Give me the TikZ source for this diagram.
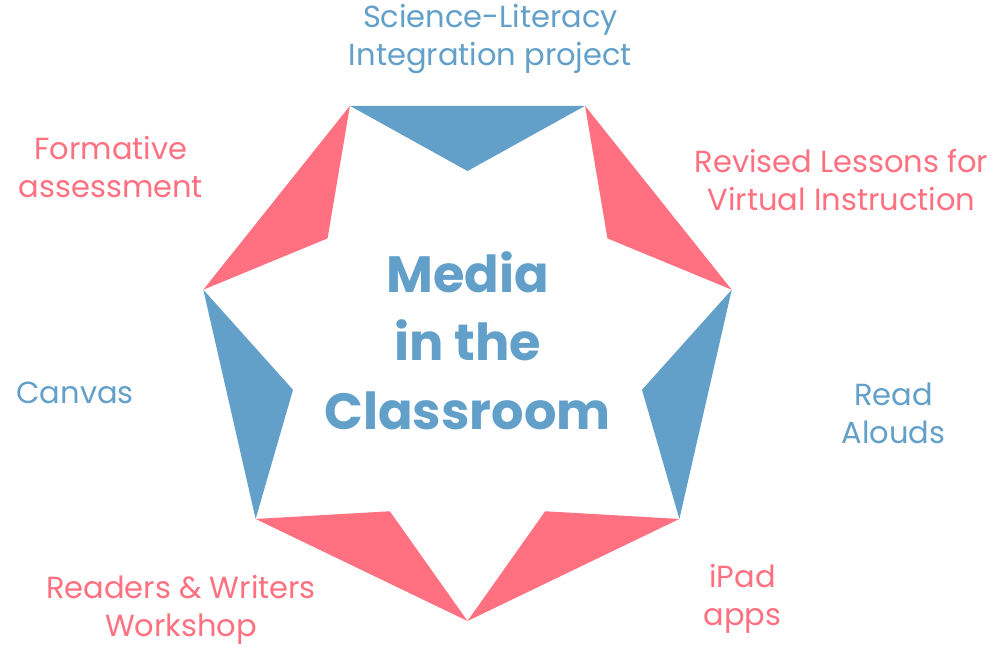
\documentclass[tikz,border=0pt]{standalone}
\usepackage{fontspec}
\setmainfont{Poppins}
\definecolor{sblue}{HTML}{629FC9}
\definecolor{spink}{HTML}{FF7080}
\begin{document}
\begin{tikzpicture}[x=1pt,y=-1pt,
  lbl/.style={font=\fontsize{30.5}{38}\selectfont, align=center, inner sep=0pt},
  bluelbl/.style={lbl, text=sblue},
  pinklbl/.style={lbl, text=spink},
  centerlbl/.style={font=\fontsize{51}{68.5}\selectfont\bfseries, align=center, inner sep=0pt, text=sblue}]
\useasboundingbox (0,0) rectangle (992,647);
\coordinate (c) at (467.5,350);
% outer heptagon vertices (clockwise from top-right) and inner star points
\foreach \i in {0,...,6} {
  \coordinate (o\i) at ([shift={(c)}]{-64.2857+51.4286*\i}:271);
  \coordinate (a\i) at ([shift={(c)}]{-38.5714+51.4286*\i}:179);
}
\fill[spink] (o0) -- (a0) -- (o1) -- cycle;
\fill[sblue] (o1) -- (a1) -- (o2) -- cycle;
\fill[spink] (o2) -- (a2) -- (o3) -- cycle;
\fill[spink] (o3) -- (a3) -- (o4) -- cycle;
\fill[sblue] (o4) -- (a4) -- (o5) -- cycle;
\fill[spink] (o5) -- (a5) -- (o6) -- cycle;
\fill[sblue] (o6) -- (a6) -- (o0) -- cycle;

\node[centerlbl] (center) at (467.5,340.5) {Media\\in the\\Classroom};
\node[bluelbl] (sci) at (490.5,39) {Science-Literacy\\Integration project};
\node[pinklbl] (form) at (111,167) {Formative\\assessment};
\node[pinklbl] (rev) at (841.5,180) {Revised Lessons for\\Virtual Instruction};
\node[bluelbl] (canvas) at (75,393) {Canvas};
\node[bluelbl] (read) at (893.5,413) {Read\\Alouds};
\node[pinklbl] (rw) at (181,610) {Readers \& Writers\\Workshop};
\node[pinklbl] (ipad) at (742.5,599) {iPad\\apps};
\end{tikzpicture}
\end{document}
